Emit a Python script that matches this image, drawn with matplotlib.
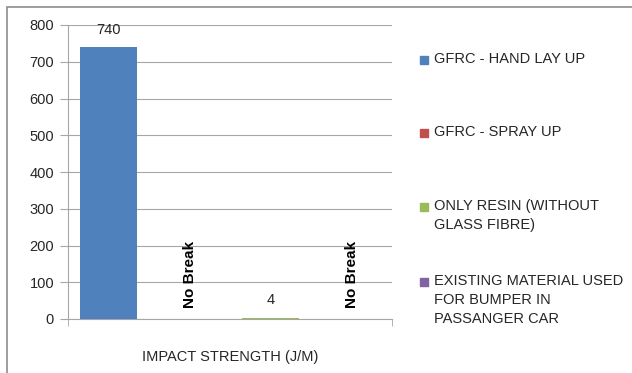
import matplotlib
matplotlib.use('Agg')
import matplotlib.pyplot as plt
from matplotlib.patches import Rectangle
import numpy as np

plt.rcParams['font.family'] = ['Liberation Sans', 'DejaVu Sans']

# impact strength per material, None = specimen did not break
SERIES = ['GFRC - HAND LAY UP', 'GFRC - SPRAY UP',
          'ONLY RESIN (WITHOUT\nGLASS FIBRE)',
          'EXISTING MATERIAL USED\nFOR BUMPER IN\nPASSANGER CAR']
VALUES = [740, None, 4, None]
LABELS = ['740', 'No Break', '4', 'No Break']
COLORS = ['#4F81BD', '#C0504D', '#9BBB59', '#8064A2']
CATEGORY = 'IMPACT STRENGTH (J/M)'
Y_TICKS = [0, 100, 200, 300, 400, 500, 600, 700, 800]

GRID = '#A6A6A6'
TXT = '#262626'

fig = plt.figure(figsize=(6.32, 3.73), dpi=100)

# chart frame
fig.patches.append(Rectangle((7 / 632, -0.05), 1.0, 1 - 7 / 373 + 0.05,
                             transform=fig.transFigure, fill=False,
                             edgecolor='#8C8C8C', lw=1.2))

ax = fig.add_axes([68 / 632, 1 - 319 / 373, 324 / 632, 294 / 373])

x = np.arange(len(SERIES))
heights = [v if v is not None else 0 for v in VALUES]
ax.bar(x, heights, width=0.7, color=COLORS, zorder=3)

for xi, v, lab in zip(x, VALUES, LABELS):
    if v is None:
        ax.text(xi, 30, lab, rotation=90, ha='center', va='bottom',
                fontsize=11, fontweight='bold', color='black')
    else:
        ax.text(xi, v + 28, lab, ha='center', va='bottom',
                fontsize=10.5, color=TXT)

ax.set_xlim(-0.5, 3.5)
ax.set_ylim(0, 800)
ax.set_yticks(Y_TICKS)
ax.set_yticklabels([str(t) for t in Y_TICKS], fontsize=10.5, color=TXT)
ax.yaxis.grid(True, color=GRID, lw=0.8, zorder=0)
ax.tick_params(axis='y', length=6, color=GRID, pad=4)

ax.set_xticks([1.5])
ax.set_xticklabels([CATEGORY], fontsize=10.5, color=TXT)
ax.set_xticks([-0.5, 3.5], minor=True)
ax.tick_params(axis='x', which='major', length=0, pad=22)
ax.tick_params(axis='x', which='minor', length=5, color=GRID)

for side in ['top', 'right']:
    ax.spines[side].set_visible(False)
ax.spines['left'].set_color(GRID)
ax.spines['bottom'].set_color(GRID)

# legend, square aligned with first text line
legend_y = [60, 133, 207, 282]
for name, col, yp in zip(SERIES, COLORS, legend_y):
    fig.patches.append(Rectangle((420 / 632, 1 - (yp + 4) / 373), 8 / 632, 8 / 373,
                                 transform=fig.transFigure, color=col))
    fig.text(434 / 632, 1 - (yp - 8) / 373, name, fontsize=10.5, color=TXT,
             va='top', linespacing=1.45)

fig.savefig('out.png', dpi=100)
